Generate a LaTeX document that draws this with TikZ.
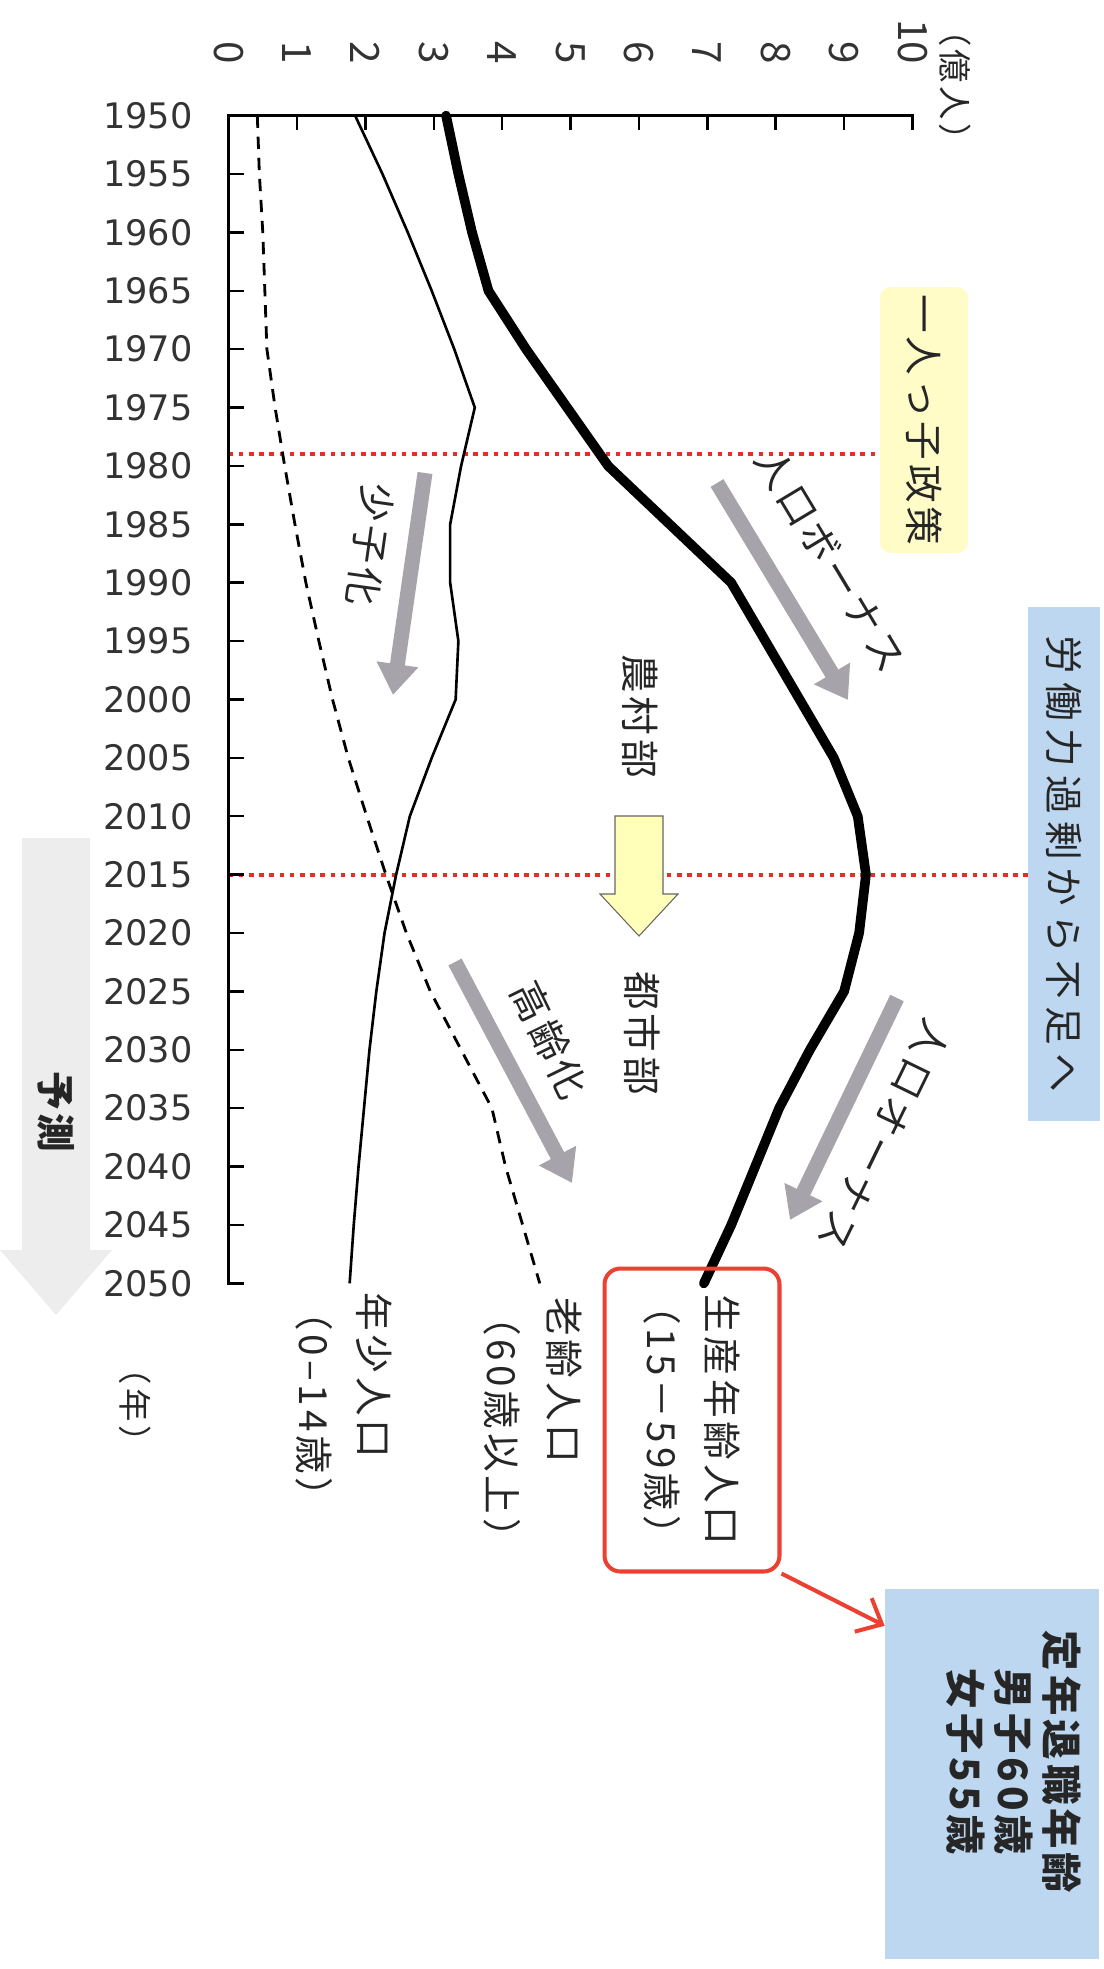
\documentclass[tikz,border=0pt]{standalone}
\usepackage{fontspec}
\newfontfamily\jp[LetterSpace=10]{Noto Sans CJK JP}
\newfontfamily\jpwide[LetterSpace=20]{Noto Sans CJK JP}
\newfontfamily\axisjp{Noto Sans CJK JP}
\newfontfamily\num{DejaVu Sans}
\usetikzlibrary{arrows.meta}
\usetikzlibrary{calc}

\definecolor{trendgray}{RGB}{166,163,170}
\definecolor{policyyellow}{RGB}{255,252,200}
\definecolor{movingyellow}{RGB}{255,255,185}
\definecolor{noteblue}{RGB}{189,215,240}
\definecolor{markred}{RGB}{232,45,40}
\definecolor{boxred}{RGB}{236,64,50}

\begin{document}
\begin{tikzpicture}[x=0.02cm, y=-0.02cm,
	jp/.style={font=\jp\fontsize{22}{34}\selectfont, inner sep=0pt, text=black!85},
	vert/.style={rotate=-90},
	axis/.style={line width=1.6pt, line join=miter},
	tick/.style={line width=1.4pt},
	yearlbl/.style={font=\num\fontsize{20}{24}\selectfont, anchor=east, inner sep=0pt, text=black!80},
	vallbl/.style={font=\axisjp\fontsize{23}{26}\selectfont, rotate=-90, anchor=east, inner sep=0pt, text=black!80},
	reddot/.style={draw=markred, line width=2.4pt, dash pattern=on 2.6pt off 3.2pt},
	working/.style={line width=5.5pt, line join=round, line cap=round},
	young/.style={line width=1.5pt, line join=round},
	elderly/.style={line width=1.6pt, dash pattern=on 7pt off 5pt},
	trend/.style={draw=trendgray, line width=8.5pt, -{Triangle[length=0.62cm, width=0.8cm]}},
	redarrow/.style={draw=boxred, line width=2.3pt, -{Straight Barb[length=0.42cm, width=0.75cm]}}
]
\useasboundingbox (0,0) rectangle (1104,1969);

% forecast band
\fill[black!7] (22,838) -- (90,838) -- (90,1250) -- (112,1250) -- (56,1315) -- (0,1250) -- (22,1250) -- cycle;
\node[jp, vert, font=\jp\bfseries\fontsize{22}{26}\selectfont] (yosoku) at (56,1112) {予測};

% boxes at the right
\node[jp, vert, fill=policyyellow, rounded corners=6pt, minimum width=5.32cm, minimum height=1.76cm] (policy) at (924,420) {一人っ子政策};
\node[jp, vert, font=\jpwide\fontsize{22}{26}\selectfont, fill=noteblue, minimum width=10.3cm, minimum height=1.44cm] (labour) at (1064,864) {労働力過剰から不足へ};

\node[jp, vert] (unit) at (955,85) {\fontsize{19}{22}\selectfont （億人）};
\node[jp, vert] (yearunit) at (135,1405) {\fontsize{19}{22}\selectfont （年）};

% chart: x = 億人, y = years after 1950
\begin{scope}[shift={(228.6,115.6)}, x=1.368cm, y=-0.2336cm]
	\coordinate (onechild) at (0,29.0);
	\coordinate (now) at (0,65.0);
	\draw[reddot] (onechild) -- (onechild -| policy.south);
	\draw[reddot] (now) -- (now -| labour.south);

	\draw[axis] (10,1.2) -- (10,0) -- (0,0) -- (0,100) -- (0.22,100);
	\foreach \v in {1,...,9} \draw[tick] (\v,0) -- (\v,1.2);
	\foreach \t in {5,10,...,95} \draw[tick] (0,\t) -- (0.22,\t);

	\foreach \v in {0,...,10} \node[vallbl] (val\v) at (\v,-4.4) {\v};
	\foreach \t [evaluate=\t as \yr using {int(1950+\t)}] in {0,5,...,100}
		\node[yearlbl] (year\t) at (-0.52,\t) {\yr};

	% 15-59
	\draw[working] (3.18,0) -- (3.36,5) -- (3.56,10) -- (3.8,15) -- (4.35,20) -- (4.95,25) -- (5.55,30)
		-- (6.45,35) -- (7.35,40) -- (7.85,45) -- (8.35,50) -- (8.85,55) -- (9.2,60) -- (9.32,65)
		-- (9.22,70) -- (9.0,75) -- (8.5,80) -- (8.05,85) -- (7.7,90) -- (7.35,95) -- (6.95,100);
	% 0-14
	\draw[young] (1.85,0) -- (2.25,5) -- (2.62,10) -- (2.97,15) -- (3.3,20) -- (3.6,25) -- (3.4,30)
		-- (3.24,35) -- (3.24,40) -- (3.36,45) -- (3.32,50) -- (2.97,55) -- (2.65,60) -- (2.45,65)
		-- (2.28,70) -- (2.16,75) -- (2.06,80) -- (1.98,85) -- (1.9,90) -- (1.83,95) -- (1.77,100);
	% 60+
	\draw[elderly] (0.42,0) -- (0.45,5) -- (0.5,10) -- (0.53,15) -- (0.56,20) -- (0.68,25) -- (0.82,30)
		-- (0.97,35) -- (1.13,40) -- (1.32,45) -- (1.52,50) -- (1.75,55) -- (2.02,60) -- (2.3,65)
		-- (2.6,70) -- (2.95,75) -- (3.4,80) -- (3.85,85) -- (4.05,90) -- (4.3,95) -- (4.55,100);
\end{scope}

% trend arrows
\coordinate (bonusA) at (717,483); \coordinate (bonusB) at (848,700);
\draw[trend] (bonusA) -- (bonusB);
\node[jp, rotate=-59] (bonus) at (831,560) {人口ボーナス};

\coordinate (onusA) at (897,998); \coordinate (onusB) at (790,1220);
\draw[trend] (onusA) -- (onusB);
\node[jp, rotate=-116] (onus) at (884,1136) {人口オーナス};

\coordinate (fewA) at (425,473); \coordinate (fewB) at (393,695);
\draw[trend] (fewA) -- (fewB);
\node[jp, rotate=-98] (fewchild) at (370,545) {少子化};

\coordinate (agingA) at (455,962); \coordinate (agingB) at (572,1183);
\draw[trend] (agingA) -- (agingB);
\node[jp, rotate=-64] (aging) at (550,1040) {高齢化};

% rural to urban
\filldraw[fill=movingyellow, draw=black!60, line width=0.6pt] (615,816) -- (663,816) -- (663,894) -- (678,894)
	-- (639,936) -- (600,894) -- (615,894) -- cycle;
\node[jp, vert] (rural) at (640,716) {農村部};
\node[jp, vert] (urban) at (642,1033) {都市部};

% line labels
\node[jp, vert, align=left, anchor=north west, font=\jp\fontsize{22}{35}\selectfont] (oldlbl) at (582,1297) {老齢人口\\（60歳以上）};
\node[jp, vert, align=left, anchor=north west, font=\jp\fontsize{22}{34}\selectfont] (younglbl) at (392,1292) {年少人口\\（0–14歳）};

\node[jp, vert, align=center, draw=boxred, line width=2.3pt, rounded corners=9pt,
	minimum width=6.06cm, minimum height=3.5cm] (prod) at (692,1420) {生産年齢人口\\（15－59歳）};

\node[vert, fill=noteblue, minimum width=7.4cm, minimum height=4.28cm, inner sep=0pt] (retire) at (992,1774) {};
\node[jp, vert, align=center, font=\jp\bfseries\fontsize{23}{27.5}\selectfont] (retiretxt) at (1014,1762) {定年退職年齢\\男子60歳\\女子55歳};

\draw[redarrow] (prod.north east) -- ($(retire.south west)!0.1!(retire.south east)$);
\end{tikzpicture}
\end{document}
